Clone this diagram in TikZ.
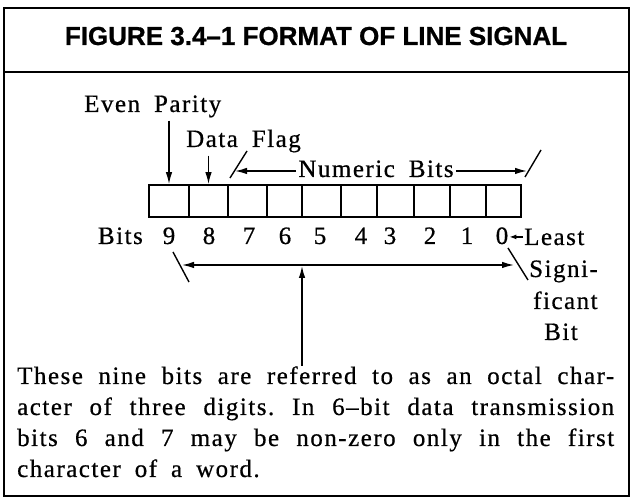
\documentclass[tikz,border=0pt]{standalone}
\usepackage{fontspec}
\setmainfont{Liberation Serif}
\newfontfamily\labfont[LetterSpace=6,WordSpace=1.8,FakeBold=0.6]{Liberation Serif}
\newfontfamily\headfont[FakeBold=0.8]{Liberation Sans}
\usetikzlibrary{arrows.meta}

\begin{document}
\frenchspacing
\begin{tikzpicture}[x=1pt,y=-1pt,
  frame/.style={line width=1.5pt},
  cell/.style={draw,line width=1.7pt,minimum height=32pt,inner sep=0pt},
  lab/.style={font=\labfont\fontsize{25}{31}\selectfont,inner sep=0pt},
  body/.style={font=\labfont\fontsize{25}{31}\selectfont,inner sep=0pt,anchor=base west},
  arr/.style={line width=1.4pt,-{Latex[length=12pt,width=6.5pt]}},
  twoarr/.style={line width=1.4pt,{Latex[length=12pt,width=6.5pt]}-{Latex[length=12pt,width=6.5pt]}},
  smallarr/.style={line width=1.2pt,-{Latex[length=7pt,width=5pt]}},
  tick/.style={line width=1.4pt}
]
% page and outer frame
\fill[white] (0,0) rectangle (633,502);
\useasboundingbox (0,0) rectangle (633,502);
\draw[frame] (4,8) rectangle (629,496);
\draw[frame] (4,72) -- (629,72);

% heading
\node[font=\headfont\bfseries\fontsize{26}{30}\selectfont,anchor=base,inner sep=0pt]
  (title) at (316,45) {FIGURE 3.4–1 FORMAT OF LINE SIGNAL};

% the ten bit cells
\foreach \l/\r/\n in {149/189/9,189/228/8,228/267/7,267/302/6,302/341/5,
                      341/377/4,377/414/3,414/450/2,450/486/1,486/521/0}
  \node[cell,minimum width={\r-\l}] (c\n) at ({(\l+\r)/2},201) {};

% labels above the cells
\node[lab,anchor=base west] (ep) at (84,112) {Even Parity};
\node[lab,anchor=base west] (df) at (186,147) {Data Flag};
\node[lab,anchor=base] (nb) at (376,177) {Numeric Bits};

\draw[arr] ([yshift=-3pt]c9.north |- ep.south) -- (c9.north);
\draw[arr] ([yshift=-3pt]c8.north |- df.south) -- (c8.north);

% span of the numeric bits
\coordinate (tl) at (235,171);
\coordinate (tr) at (527,171);
\coordinate (s1a) at (247,151);
\coordinate (s1b) at (230,178);
\coordinate (s2a) at (541,150);
\coordinate (s2b) at (525,177);
\draw[arr] ([xshift=-2pt]nb.west |- tl) -- (tl);
\draw[arr] ([xshift=2pt]nb.east |- tr) -- (tr);
\draw[tick] (s1a) -- (s1b);
\draw[tick] (s2a) -- (s2b);

% bit numbers
\node[lab,anchor=base east] (bits) at (143,244) {Bits};
\foreach \x/\n in {169/9,209/8,249/7,285/6,320/5,361/4,390/3,430/2,467/1,502/0}
  \node[lab,anchor=base] (d\n) at (\x,244) {\n};

\node[lab,anchor=base west] (least) at (524,245) {Least};
\node[lab,anchor=base west] (signi) at (529,277) {Signi-};
\node[lab,anchor=base west] (ficant) at (533,309) {ficant};
\node[lab,anchor=base west] (bit) at (544,340) {Bit};
\draw[smallarr] ([xshift=-1pt]least.west) -- ([xshift=1pt]least.west -| d0.east);

% span of the nine octal bits
\coordinate (bl) at (182,265);
\coordinate (br) at (514,265);
\coordinate (vt) at (302,266);
\coordinate (vb) at (302,366);
\coordinate (t1a) at (173,252);
\coordinate (t1b) at (189,282);
\coordinate (t2a) at (508,248);
\coordinate (t2b) at (528,280);
\draw[twoarr] (bl) -- (br);
\draw[arr] (vb) -- (vt);
\draw[tick] (t1a) -- (t1b);
\draw[tick] (t2a) -- (t2b);

% explanatory paragraph
\node[body] (p1) at (17,384) {\makebox[597pt][s]{These nine bits are referred to as an octal char-}};
\node[body] (p2) at (17,415) {\makebox[597pt][s]{acter of three digits. In 6–bit data transmission}};
\node[body] (p3) at (17,446) {\makebox[597pt][s]{bits 6 and 7 may be non-zero only in the first}};
\node[body] (p4) at (17,477) {character of a word.};
\end{tikzpicture}
\end{document}
